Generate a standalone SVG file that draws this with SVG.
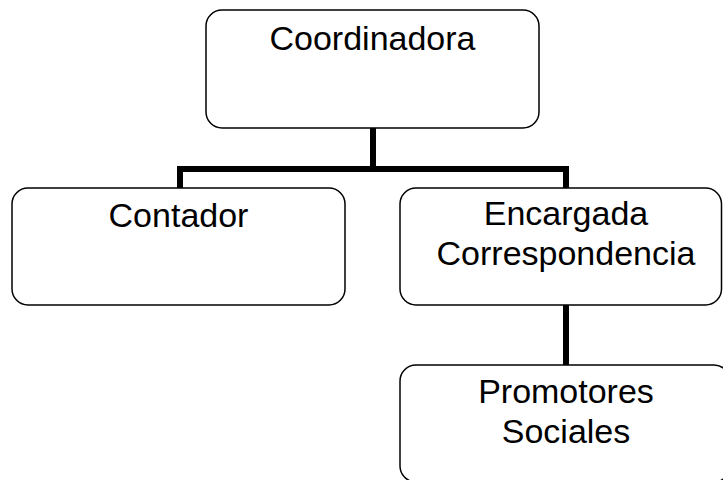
<svg xmlns="http://www.w3.org/2000/svg" width="723" height="480" viewBox="0 0 723 480">
  <style>
    .box { fill: #ffffff; stroke: #000000; stroke-width: 1.5; }
    .lbl { font-family: "Liberation Sans", Arial, sans-serif; font-size: 34px; fill: #000000; text-anchor: middle; }
    .conn { fill: none; stroke: #000000; stroke-width: 6; stroke-linecap: butt; stroke-linejoin: miter; }
  </style>
  <rect width="723" height="480" fill="#ffffff"/>

  <g id="connectors">
    <path class="conn" d="M373 128 V169"/>
    <path class="conn" d="M180 188 V169 H566 V188"/>
    <path class="conn" d="M566 305 V365"/>
  </g>

  <g id="coordinadora">
    <rect class="box" x="206" y="10" width="333" height="118" rx="16" ry="16"/>
    <text class="lbl" x="372.5" y="50">Coordinadora</text>
  </g>

  <g id="contador">
    <rect class="box" x="12" y="188" width="333" height="117" rx="16" ry="16"/>
    <text class="lbl" x="178.5" y="227">Contador</text>
  </g>

  <g id="encargada">
    <rect class="box" x="400" y="188" width="321.5" height="117" rx="16" ry="16"/>
    <text class="lbl" x="566" y="225">Encargada</text>
    <text class="lbl" x="566" y="265">Correspondencia</text>
  </g>

  <g id="promotores">
    <rect class="box" x="400" y="365" width="330" height="117" rx="16" ry="16"/>
    <text class="lbl" x="566" y="403">Promotores</text>
    <text class="lbl" x="566" y="443">Sociales</text>
  </g>
</svg>
